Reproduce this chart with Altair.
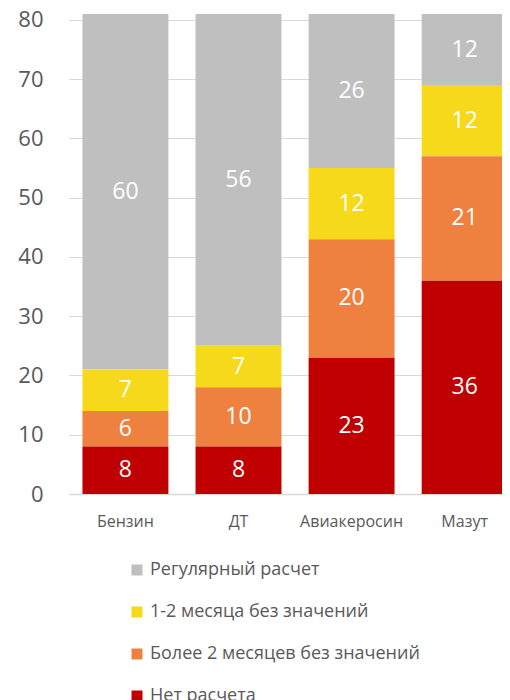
import altair as alt
import pandas as pd

categories = ["Бензин", "ДТ", "Авиакеросин", "Мазут"]
series_names = ["Регулярный расчет", "1-2 месяца без значений", "Более 2 месяцев без значений", "Нет расчета"]
net_rascheta = [8, 8, 23, 36]
bolee_2 = [6, 10, 20, 21]
mes_1_2 = [7, 7, 12, 12]
regular = [60, 56, 26, 12]
colors = ["#bfbfbf", "#f6d91a", "#ef8140", "#c00000"]
y_ticks = [0, 10, 20, 30, 40, 50, 60, 70, 80]

series_values = [regular, mes_1_2, bolee_2, net_rascheta]
rows = []
for si, (name, vals) in enumerate(zip(series_names, series_values)):
    for c, v in zip(categories, vals):
        rows.append({"cat": c, "series": name, "value": v, "order": 3 - si})
df = pd.DataFrame(rows)

FONT = "Open Sans"
GRAY = "#595959"

base = alt.Chart(df).transform_stack(
    stack="value", groupby=["cat"], as_=["y0", "y1"],
    sort=[alt.SortField("order", order="ascending")]
).transform_calculate(mid="(datum.y0 + datum.y1) / 2")

x_enc = alt.X("cat:N", sort=categories, title=None,
              scale=alt.Scale(range=[0, 441], paddingInner=0.24, paddingOuter=0.07, align=0.85),
              axis=alt.Axis(labelAngle=0, ticks=False, labelPadding=19, labelFontSize=16,
                            labelColor=GRAY, labelFont=FONT, domainColor="#d9d9d9", domainWidth=1.5))

bars = base.mark_bar().encode(
    x=x_enc,
    y=alt.Y("y0:Q", title=None, scale=alt.Scale(domain=[0, 81], nice=False),
            axis=alt.Axis(values=y_ticks, ticks=False, domain=False, labelPadding=26,
                          labelFontSize=22, labelColor=GRAY, labelFont=FONT,
                          gridColor="#d9d9d9", gridWidth=1.2)),
    y2="y1:Q",
    color=alt.Color("series:N", sort=series_names,
                    scale=alt.Scale(domain=series_names, range=colors),
                    legend=alt.Legend(title=None, orient="none", legendX=59, legendY=547,
                                      direction="vertical", symbolType="square", symbolSize=121,
                                      symbolStrokeWidth=0, labelFontSize=18, labelFont=FONT,
                                      labelColor=GRAY, rowPadding=24, labelOffset=4, labelLimit=0)),
)

texts = base.mark_text(color="white", fontSize=23, font=FONT, baseline="middle").encode(
    x=alt.X("cat:N", sort=categories),
    y=alt.Y("mid:Q"),
    text=alt.Text("value:Q"),
)

chart = alt.layer(bars, texts).properties(
    width=433, height=480,
    autosize=alt.AutoSizeParams(type="none"),
    padding={"left": 61, "top": 6, "right": 0, "bottom": 206},
).configure_view(stroke=None)

chart.save("out.html", embed_options={"renderer": "svg", "actions": False})
